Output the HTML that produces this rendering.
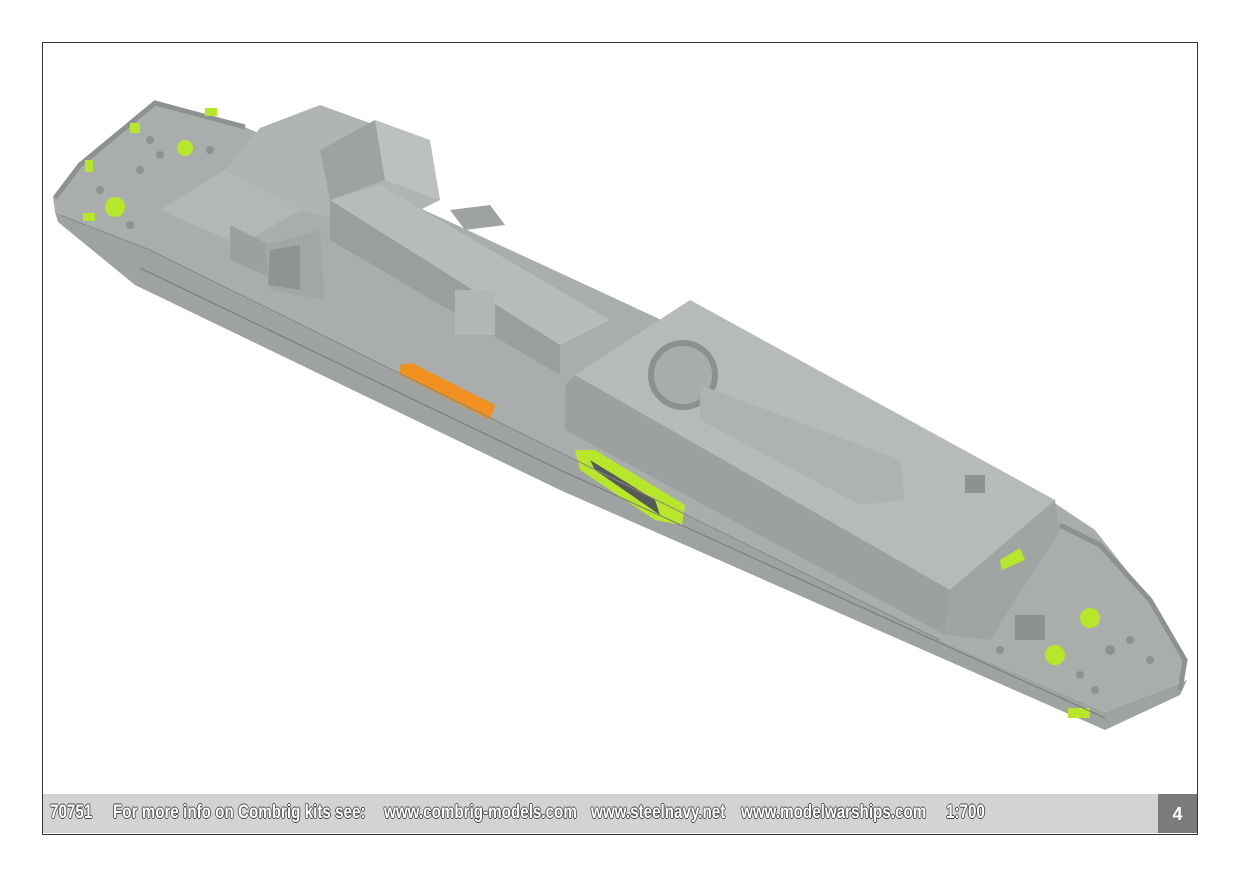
<!DOCTYPE html>
<html><head><meta charset="utf-8"><style>
html,body{margin:0;padding:0;background:#fff;}
body{width:1241px;height:875px;position:relative;overflow:hidden;font-family:"Liberation Sans",sans-serif;}
#frame{position:absolute;left:42px;top:42px;width:1154px;height:791px;border:1px solid #333;box-sizing:content-box;}
#foot{position:absolute;left:43px;top:794px;width:1115px;height:39px;background:#d3d3d3;}
#foot span{position:absolute;top:8px;font-size:19px;font-weight:bold;color:#fff;letter-spacing:0;transform:scaleX(0.8);transform-origin:left;white-space:pre;
text-shadow:1px 0 #444,-1px 0 #444,0 1px #444,0 -1px #444;}
#num{position:absolute;left:1158px;top:794px;width:39px;height:39px;background:#7b7b7b;color:#fff;font-weight:bold;font-size:18px;text-align:center;line-height:40px;}
svg{position:absolute;left:0;top:0;}
</style></head><body>
<svg width="1241" height="875" viewBox="0 0 1241 875">
<polygon points="55,212 150,250 940,640 1105,712 1178,684 1187,680 1180,695 1105,730 560,490 135,285 58,222" fill="#9ea3a1"/>
<polygon points="53,198 80,165 155,103 245,127 1050,500 1095,530 1150,600 1185,660 1178,684 1105,712 940,640 150,250 55,212" fill="#a9aeac"/>
<polyline points="55,198 80,165 155,103 200,115 245,127" fill="none" stroke="#8d9290" stroke-width="5"/>
<polyline points="1060,525 1100,545 1150,600 1185,660 1180,690" fill="none" stroke="#8d9290" stroke-width="5"/>
<polygon points="160,210 225,170 300,210 240,245" fill="#b3b7b5"/>
<polygon points="225,170 260,128 320,105 430,145 440,200 380,230 300,210" fill="#b0b4b2"/>
<polygon points="230,225 300,260 300,290 230,260" fill="#9ca19f"/>
<polygon points="265,245 320,230 325,300 270,290" fill="#a2a7a5"/>
<polygon points="375,120 430,140 440,200 385,180" fill="#bcc0be"/>
<polygon points="375,120 385,180 330,200 320,150" fill="#9ea3a1"/>
<polygon points="330,200 380,185 610,320 560,345" fill="#b7bbb9"/>
<polygon points="330,200 560,345 560,375 330,240" fill="#9a9f9d"/>
<polygon points="575,375 690,300 1055,500 950,590" fill="#b6bab8"/>
<polygon points="565,385 575,375 950,590 945,635 565,430" fill="#9ca19f"/>
<polygon points="950,590 1055,500 1060,530 990,640 945,635" fill="#a0a5a3"/>
<circle cx="683" cy="375" r="32" fill="#a8adab" stroke="#8c918f" stroke-width="6"/>
<polygon points="700,385 900,460 905,500 860,505 700,420" fill="#aeb2b0"/>
<rect x="455" y="290" width="40" height="45" fill="#b2b6b4"/>
<polygon points="450,210 490,205 505,225 465,230" fill="#9ea3a1"/>
<polygon points="270,250 300,245 300,290 268,285" fill="#8f9492"/>
<polygon points="400,365 412,363 495,405 490,420 400,375" fill="#f0901e"/>
<polygon points="575,450 595,450 685,505 682,525 655,520 580,470" fill="#b8e62a"/>
<polygon points="590,460 655,500 660,515 595,470" fill="#555a58"/>
<polygon points="1000,560 1020,548 1025,560 1002,570" fill="#b8e62a"/>
<rect x="1068" y="708" width="22" height="10" fill="#b8e62a"/>
<circle cx="1090" cy="618" r="10" fill="#b8e62a"/>
<circle cx="1055" cy="655" r="10" fill="#b8e62a"/>
<circle cx="115" cy="207" r="10" fill="#b8e62a"/>
<circle cx="185" cy="148" r="8" fill="#b8e62a"/>
<rect x="205" y="108" width="12" height="8" fill="#b8e62a"/>
<rect x="130" y="123" width="10" height="10" fill="#b8e62a"/>
<rect x="85" y="160" width="8" height="12" fill="#b8e62a"/>
<rect x="83" y="213" width="12" height="8" fill="#b8e62a"/>
<g fill="#8d9290">
<circle cx="150" cy="140" r="4"/><circle cx="160" cy="155" r="4"/><circle cx="140" cy="170" r="4"/><circle cx="100" cy="190" r="4"/><circle cx="130" cy="225" r="4"/><circle cx="210" cy="150" r="4"/>
<rect x="1015" y="615" width="30" height="25"/><circle cx="1110" cy="650" r="5"/><circle cx="1130" cy="640" r="4"/><circle cx="1080" cy="675" r="4"/><circle cx="1150" cy="660" r="4"/><circle cx="1000" cy="650" r="4"/><circle cx="1095" cy="690" r="4"/>
<rect x="965" y="475" width="20" height="18"/>
</g>
<polyline points="140,268 560,470 1105,718" fill="none" stroke="#777" stroke-width="1"/>
<polyline points="60,215 150,250 940,640" fill="none" stroke="#888" stroke-width="1"/>
</svg>
<div id="frame"></div>
<div id="foot"><span style="left:7px">70751</span><span style="left:70px">For more info on Combrig kits see:</span><span style="left:341px">www.combrig-models.com</span><span style="left:548px">www.steelnavy.net</span><span style="left:698px">www.modelwarships.com</span><span style="left:903px">1:700</span></div>
<div id="num">4</div>
</body></html>
